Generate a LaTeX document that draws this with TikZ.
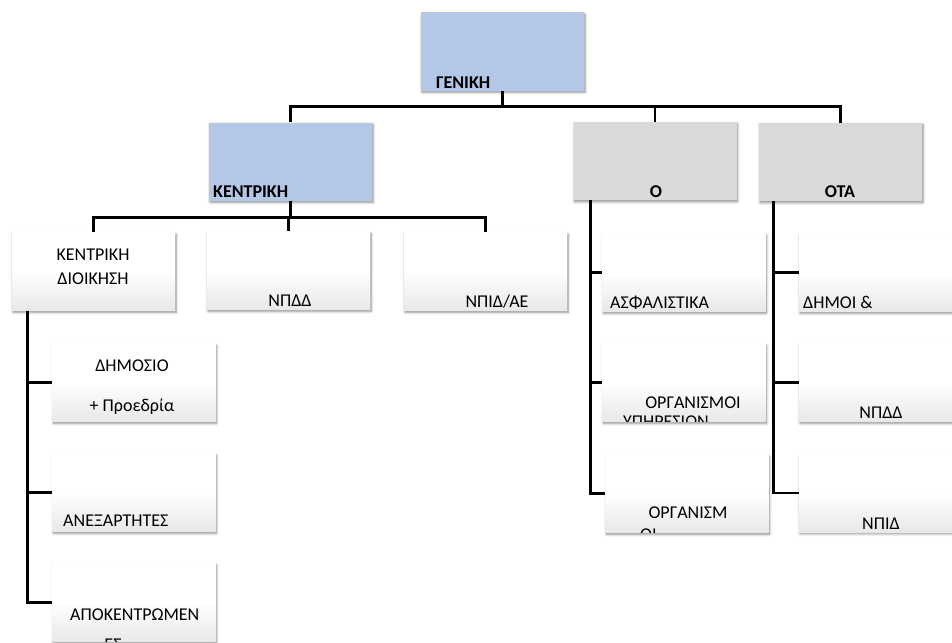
\documentclass[tikz,border=0pt]{standalone}
\usepackage{fontspec}
\setmainfont{Carlito}
\usetikzlibrary{shadows.blur}
\definecolor{headblue}{RGB}{180,199,231}
\definecolor{headgrey}{RGB}{217,217,217}

\begin{document}
\begin{tikzpicture}[
        x=1pt, y=-1pt,
        % Style de base des boîtes
        box/.style={
            rectangle,
            inner sep=0pt,
            minimum width=163pt,
            minimum height=78pt,
            blur shadow={shadow xshift=1pt, shadow yshift=-1.8pt, shadow blur radius=2.5pt,
                shadow blur steps=6, shadow blur extra rounding=0pt, shadow opacity=45}
        },
        % Boîtes filles (dégradé)
        block/.style={box, top color=white, bottom color=black!9, middle color=white},
        % Boîtes de tête
        headblock/.style={box, fill=#1},
        % Textes
        txt/.style={inner sep=0pt, font=\fontsize{18}{22}\selectfont},
        headtxt/.style={inner sep=0pt, font=\bfseries\fontsize{18}{22}\selectfont},
        % Liaisons
        link/.style={line width=2.8pt, draw=black}
    ]
    \useasboundingbox (0,0) rectangle (952,642);
    \clip (0,0) rectangle (952,642);

    % --- NIVEAU 0 ---
    \node [headblock=headblue] (gen) at (502.5,51.5) {};
    \node [headtxt, anchor=base west] (gentxt) at (436,88) {ΓΕΝΙΚΗ};

    % --- NIVEAU 1 ---
    \node [headblock=headblue] (kentr) at (290.5,161.5) {};
    \node [headtxt, anchor=base west] (kentrtxt) at (213,197) {ΚΕΝΤΡΙΚΗ};
    \node [headblock=headgrey] (org) at (655,161) {};
    \node [headtxt, anchor=base] (orgtxt) at (656,197) {Ο};
    \node [headblock=headgrey] (ota) at (840.5,162) {};
    \node [headtxt, anchor=base] (otatxt) at (840,197) {ΟΤΑ};

    % --- NIVEAU 2 : KENTRIKH ---
    \node [block] (kd) at (93.5,271.5) {};
    \node [txt, anchor=base] (kdtxta) at (93,260) {ΚΕΝΤΡΙΚΗ};
    \node [txt, anchor=base] (kdtxtb) at (93,284) {ΔΙΟΙΚΗΣΗ};
    \node [block] (npdd) at (288.5,270.5) {};
    \node [txt, anchor=base] (npddtxt) at (290,306) {ΝΠΔΔ};
    \node [block] (npid) at (485.5,271.5) {};
    \node [txt, anchor=base] (npidtxt) at (497,307) {ΝΠΙΔ/ΑΕ};

    % --- NIVEAU 3 : KENTRIKH ΔΙΟΙΚΗΣΗ ---
    \node [block] (dim) at (134,382.5) {};
    \node [txt, anchor=base] (dimtxta) at (132,371) {ΔΗΜΟΣΙΟ};
    \node [txt, anchor=base] (dimtxtb) at (132,411) {+ Προεδρία};
    \node [block] (anex) at (134,492.5) {};
    \node [txt, anchor=base west] (anextxt) at (63,526) {ΑΝΕΞΑΡΤΗΤΕΣ};
    \node [block] (apok) at (134,602.5) {};
    \begin{scope}
        \clip (apok.south west) rectangle (apok.north east);
        \node [txt, anchor=base west] (apoktxta) at (70,620) {ΑΠΟΚΕΝΤΡΩΜΕΝ};
        \node [txt, anchor=base] (apoktxtb) at (113,650) {ΕΣ};
    \end{scope}

    % --- NIVEAU 2 : O ---
    \node [block] (asf) at (684,272.5) {};
    \node [txt, anchor=base west] (asftxt) at (610,308) {ΑΣΦΑΛΙΣΤΙΚΑ};
    \node [block] (orgy) at (684,382.5) {};
    \begin{scope}
        \clip (orgy.south west) rectangle (orgy.north east);
        \node [txt, anchor=base] (orgytxta) at (693,408) {ΟΡΓΑΝΙΣΜΟΙ};
        \node [txt, anchor=base west] (orgytxtb) at (623,427) {ΥΠΗΡΕΣΙΩΝ};
    \end{scope}
    \node [block] (orgm) at (687,493.5) {};
    \begin{scope}
        \clip (orgm.south west) rectangle (orgm.north east);
        \node [txt, anchor=base] (orgmtxta) at (688,518) {ΟΡΓΑΝΙΣΜ};
        \node [txt, anchor=base west] (orgmtxtb) at (640,540) {ΟΙ};
    \end{scope}

    % --- NIVEAU 2 : OTA ---
    \node [block] (dimoi) at (880.5,272.5) {};
    \node [txt, anchor=base west] (dimoitxt) at (803,308) {ΔΗΜΟΙ \&};
    \node [block] (otanpdd) at (880.5,382.5) {};
    \node [txt, anchor=base] (otanpddtxt) at (881,418) {ΝΠΔΔ};
    \node [block] (otanpid) at (880.5,493) {};
    \node [txt, anchor=base] (otanpidtxt) at (881,529) {ΝΠΙΔ};

    % --- LIAISONS ---
    \draw [link] (gen.south) -- ++(0,16) -| (kentr.north);
    \draw [link] (gen.south) -- ++(0,16) -| (org.north);
    \draw [link] (gen.south) -- ++(0,16) -| (ota.north);

    \draw [link] (kentr.south) -- ++(0,17) -| (kd.north);
    \draw [link] (kentr.south) -- ++(0,17) -| (npdd.north);
    \draw [link] (kentr.south) -- ++(0,17) -| (npid.north);

    \draw [link] ([xshift=16pt]kd.south west) |- (dim.west);
    \draw [link] ([xshift=16pt]kd.south west) |- (anex.west);
    \draw [link] ([xshift=16pt]kd.south west) |- (apok.west);

    \draw [link] ([xshift=17pt]org.south west) |- (asf.west);
    \draw [link] ([xshift=17pt]org.south west) |- (orgy.west);
    \draw [link] ([xshift=17pt]org.south west) |- (orgm.west);

    \draw [link] ([xshift=15pt]ota.south west) |- (dimoi.west);
    \draw [link] ([xshift=15pt]ota.south west) |- (otanpdd.west);
    \draw [link] ([xshift=15pt]ota.south west) |- (otanpid.west);

\end{tikzpicture}
\end{document}
